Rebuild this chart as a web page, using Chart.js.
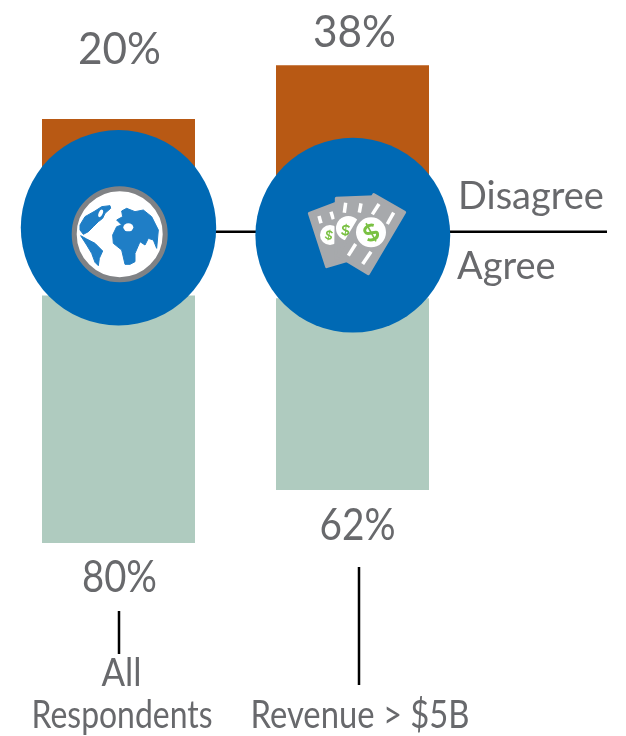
<!DOCTYPE html>
<html><head><meta charset="utf-8">
<style>html,body{margin:0;padding:0;background:#fff}canvas{display:block}</style>
<script src="https://cdn.jsdelivr.net/npm/chart.js@4"></script>
</head><body>
<canvas id="c" width="626" height="736"></canvas>
<script>
const categories = [["All","Respondents"],["Revenue > $5B"]];
const agree = [80,62];
const disagree = [20,38];
const baseOffset = [0,17.1];
const centerGap = [37,37.3];
const sideLabels = ["Disagree","Agree"];

const TEXT='#68696C', BLUE='#0069B4', GREY='#A7A9AC', GREEN='#7AC143', LAND='#1F7EC6';
const FONT='Lato, "Open Sans", sans-serif';

function txt(ctx,s,x,y,size,maxW,align){
  ctx.font='400 '+size+'px '+FONT; ctx.fillStyle=TEXT; ctx.textAlign=align||'center'; ctx.textBaseline='alphabetic';
  ctx.fillText(s,x,y,maxW);
}
function poly(ctx,pts,ox,oy,k){
  ctx.beginPath();
  pts.forEach((p,i)=>{const X=ox+p[0]*k,Y=oy+p[1]*k; i?ctx.lineTo(X,Y):ctx.moveTo(X,Y);});
  ctx.closePath();
}
function segs(ctx,list,ox,oy,k){
  list.forEach(s=>{ctx.beginPath();ctx.moveTo(ox+s[0]*k,oy+s[1]*k);ctx.lineTo(ox+s[2]*k,oy+s[3]*k);ctx.stroke();});
}
function dollar(ctx,x,y,r,rot){
  ctx.save();ctx.translate(x,y);ctx.rotate(rot);
  ctx.strokeStyle=GREEN;ctx.lineWidth=r*0.26;ctx.lineCap='butt';
  ctx.beginPath();ctx.moveTo(r*.5,-r*.42);
  ctx.bezierCurveTo(r*.1,-r*.8,-r*.6,-r*.55,-r*.4,-r*.15);
  ctx.bezierCurveTo(-r*.2,r*.15,r*.6,r*.05,r*.42,r*.42);
  ctx.bezierCurveTo(r*.25,r*.8,-r*.3,r*.7,-r*.55,r*.4);
  ctx.stroke();
  ctx.lineWidth=r*0.14;
  ctx.beginPath();ctx.moveTo(0,-r*.9);ctx.lineTo(0,r*.9);ctx.stroke();
  ctx.restore();
}
function globe(ctx,cx,cy){
  ctx.fillStyle='#fff';ctx.strokeStyle='#808285';ctx.lineWidth=5;
  ctx.beginPath();ctx.arc(cx,cy,45.5,0,Math.PI*2);ctx.fill();ctx.stroke();
  const ox=cx-59.7, oy=cy-59.2, k=1/3;
  ctx.fillStyle=LAND;ctx.strokeStyle=LAND;ctx.lineWidth=1;ctx.lineJoin='round';
  poly(ctx,[[60,150],[75,125],[105,108],[125,95],[150,92],[152,100],[135,115],[128,130],[115,140],[100,155],[85,170],[70,178],[60,165]],ox,oy,k);ctx.fill();ctx.stroke();
  poly(ctx,[[62,182],[80,192],[105,205],[128,228],[118,250],[115,272],[105,262],[95,235],[80,210]],ox,oy,k);ctx.fill();ctx.stroke();
  poly(ctx,[[185,108],[200,100],[225,110],[250,105],[275,125],[295,165],[290,220],[280,195],[265,190],[255,210],[240,200],[225,235],[225,260],[210,268],[195,268],[185,225],[160,205],[158,180],[170,155],[185,150],[170,135],[188,125]],ox,oy,k);ctx.fill();ctx.stroke();
  ctx.fillStyle='#fff';
  ctx.beginPath();ctx.ellipse(ox+205*k,oy+157*k,5,4,0,0,Math.PI*2);ctx.fill();
  ctx.beginPath();ctx.ellipse(ox+122*k,oy+115*k,2,4,.4,0,Math.PI*2);ctx.fill();
}
function cards(ctx,cx,cy){
  const ox=cx-57.5, oy=cy-55, k=1/3;
  ctx.lineJoin='round';ctx.lineWidth=3;ctx.strokeStyle=GREY;
  const stripe=list=>{ctx.save();ctx.strokeStyle='#fff';ctx.lineWidth=3.5;segs(ctx,list,ox,oy,k);ctx.restore();};
  const disc=(x,y,r)=>{ctx.fillStyle='#fff';ctx.beginPath();ctx.arc(ox+x*k,oy+y*k,r*k,0,Math.PI*2);ctx.fill();};
  ctx.fillStyle=GREY;
  poly(ctx,[[43,100],[150,60],[212,225],[95,260]],ox,oy,k);ctx.fill();ctx.stroke();
  stripe([[72,108,78,130],[108,95,115,118]]);
  disc(105,165,30);dollar(ctx,ox+102*k,oy+165*k,6,0.2);
  ctx.fillStyle=GREY;
  poly(ctx,[[124,55],[240,50],[240,240],[122,235]],ox,oy,k);ctx.fill();ctx.stroke();
  stripe([[152,68,148,98],[198,70,193,98]]);
  disc(160,145,37);dollar(ctx,ox+152*k,oy+150*k,7,0.1);
  ctx.fillStyle=GREY;
  poly(ctx,[[236,44],[329,97],[220,281],[128,226]],ox,oy,k);ctx.fill();ctx.stroke();
  stripe([[252,72,232,103],[296,98,277,132],[182,192,160,227],[228,215,203,252]]);
  disc(228,157,45);dollar(ctx,ox+228*k,oy+157*k,11.5,-0.5);
}

const overlay={id:'overlay',
  beforeDatasetsDraw(chart){
    const ctx=chart.ctx;ctx.save();
    ctx.strokeStyle='#000';ctx.lineWidth=2.5;
    ctx.beginPath();ctx.moveTo(118,231.7);ctx.lineTo(607,231.7);ctx.stroke();
    ctx.restore();
  },
  afterDatasetsDraw(chart){
    const ctx=chart.ctx;ctx.save();
    const a=chart.getDatasetMeta(1).data, d=chart.getDatasetMeta(3).data;
    const cs=[[a[0].x,227.7,97.7],[a[1].x+0.3,235.2,97.4]];
    ctx.fillStyle=BLUE;
    cs.forEach(c=>{ctx.beginPath();ctx.arc(c[0],c[1],c[2],0,Math.PI*2);ctx.fill();});
    globe(ctx,a[0].x+1.2,234.2);
    cards(ctx,a[1].x,235);
    const wP=[83,83],wA=[75,76];
    disagree.forEach((v,i)=>txt(ctx,v+'%',d[i].x+(i?2:1),d[i].y-(i?18:55),44,wP[i]));
    agree.forEach((v,i)=>txt(ctx,v+'%',a[i].x+(i?5:1),a[i].base+(i?50:49),44,wA[i]));
    ctx.strokeStyle='#000';ctx.lineWidth=2.5;
    ctx.beginPath();ctx.moveTo(119,611);ctx.lineTo(119,654);ctx.moveTo(359,567);ctx.lineTo(359,685);ctx.stroke();
    txt(ctx,categories[0][0],121.5,686,38,40);
    txt(ctx,categories[0][1],122,728,38,181);
    txt(ctx,categories[1][0],360,728,38,219);
    txt(ctx,sideLabels[0],458,209,38,147,'left');
    txt(ctx,sideLabels[1],457,279,38,101,'left');
    ctx.restore();
  }};

new Chart(document.getElementById('c'),{
  type:'bar',
  data:{labels:categories.map(c=>c.join(' ')),datasets:[
    {label:'offset',data:baseOffset,backgroundColor:'rgba(0,0,0,0)',stack:'s'},
    {label:'Agree',data:agree,backgroundColor:'#AFCBBF',stack:'s'},
    {label:'gap',data:centerGap,backgroundColor:'rgba(0,0,0,0)',stack:'s'},
    {label:'Disagree',data:disagree,backgroundColor:'#B85914',stack:'s'}
  ]},
  options:{
    responsive:false,animation:false,devicePixelRatio:1,
    layout:{padding:{left:1.5,right:156.5,top:45,bottom:193}},
    datasets:{bar:{barPercentage:153/234,categoryPercentage:1}},
    plugins:{legend:{display:false},tooltip:{enabled:false}},
    scales:{
      x:{display:false,stacked:true},
      y:{display:false,stacked:true,min:0,max:498/3.095}
    }
  },
  plugins:[overlay]
});
</script>
</body></html>
